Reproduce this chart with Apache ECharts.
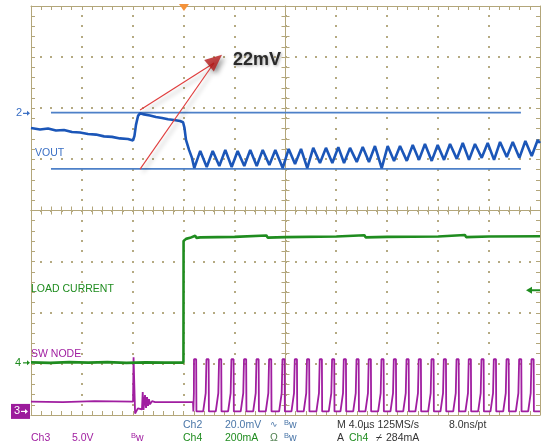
<!DOCTYPE html>
<html><head><meta charset="utf-8">
<script src="https://cdn.jsdelivr.net/npm/echarts@6/dist/echarts.min.js"></script>
<style>html,body{margin:0;padding:0;background:#fff}#c{width:545px;height:447px}</style>
</head><body><div id="c"></div>
<script>
// ---- time base (µs) ----
const timeMin = 0, timeMax = 40, timePerDiv = 4;
// ---- channel scales (per div) and ground-marker positions (div from bottom) ----
const ch2Scale = 20, ch2Pos = 5.9;    // VOUT, mV/div
const ch3Scale = 5, ch3Pos = 0.07;    // SW NODE, V/div
const ch4Scale = 200, ch4Pos = 1.02;  // LOAD CURRENT, mA/div

// ---- VOUT (mV, AC) [t µs, mV] ----
const voutData = [
  [0.00,-5.7],[0.71,-6.3],[1.34,-5.9],[1.96,-6.7],[2.59,-6.5],[3.22,-7.3],[3.85,-7.5],[4.48,-8.1],
  [5.11,-8.3],[5.74,-9.0],[6.37,-9.2],[6.99,-9.8],[7.62,-10.0],[8.02,-10.6],
  [8.13,-8.8],[8.25,-4.5],[8.41,-1.0],[8.57,0.0],[8.88,-0.4],[9.35,-0.8],[9.82,-1.4],[10.30,-1.8],
  [10.77,-2.3],[11.24,-2.6],[11.71,-3.0],[11.95,-3.5],[12.06,-5.7],[12.18,-10.4],[12.42,-14.3],[12.65,-17.4],
  [12.83,-21.4],[13.30,-14.7],[13.81,-21.0],[14.28,-14.7],[14.80,-20.6],[15.27,-14.3],
  [15.77,-21.0],[16.24,-14.7],[16.76,-20.6],[17.23,-14.3],[17.74,-20.6],[18.21,-14.3],
  [18.73,-20.2],[19.20,-14.3],[19.78,-21.4],[20.25,-13.9],[20.75,-19.8],[21.22,-13.9],
  [21.71,-21.4],[22.18,-13.5],[22.71,-19.4],[23.18,-13.5],[23.68,-19.4],[24.15,-13.2],
  [24.60,-19.4],[25.07,-13.5],[25.60,-19.0],[26.07,-13.2],[26.56,-19.0],[27.03,-12.8],
  [27.56,-21.4],[28.03,-12.8],[28.53,-18.6],[29.00,-12.8],[29.53,-18.6],[30.00,-12.4],
  [30.49,-18.2],[30.96,-12.0],[31.49,-18.6],[31.96,-12.4],[32.46,-18.2],[32.93,-12.0],
  [33.46,-17.8],[33.93,-11.6],[34.42,-18.2],[34.89,-12.0],[35.42,-17.4],[35.89,-11.6],
  [36.39,-18.2],[36.86,-11.2],[37.39,-17.1],[37.86,-11.2],[38.38,-17.4],[38.85,-10.8],
  [39.35,-16.7],[39.82,-10.4],[40.00,-11.6]
];
// ---- cursors (mV) ----
const cursorT = [1.57, 38.5];
const cursorMv = [0.3, -21.7];
// ---- LOAD CURRENT (mA) ----
const loadData = [
  [0,2],[1.5,0],[3,3],[4.5,1],[6,3],[7.5,0],[9,2],[10.5,1],[11.98,1],
  [11.99,477],[12.18,485],[12.5,489],[12.9,497],[13.0,489],[13.3,491],[16,493],[18.5,498],[18.6,490],
  [20,492],[24,494],[26.2,499],[26.3,491],[28,493],[32,494],[34.1,500],[34.2,492],[36,494],[40,495]
];
// ---- SW NODE (V) ----
const swPre = [
  [0,0.96],[2.5,0.9],[5,1.0],[8.02,0.96],[8.06,5.3],[8.12,5.2],[8.18,-0.2],[8.33,-0.2],[8.40,0.3],
  [8.72,0.2],[8.78,1.9],[8.84,0.15],[8.96,1.6],[9.04,0.35],[9.12,1.4],[9.20,0.55],[9.27,1.2],
  [9.35,0.7],[9.51,1.0],[9.75,0.9],[12.73,0.93],[12.76,0.0]
];
const swEdgeT = [12.83,13.81,14.80,15.77,16.76,17.74,18.73,19.78,20.75,21.71,22.71,23.68,24.60,25.60,
  26.56,27.56,28.53,29.53,30.49,31.49,32.46,33.46,34.42,35.42,36.39,37.39,38.38,39.35];
const swPulse = [[-0.28,0.0],[-0.08,1.8],[-0.03,1.8],[-0.02,5.1],[0.15,5.1],[0.17,0.0]]; // [dt µs, V]
const swTail = [[40,0.0]];
// ---- annotation ----
const arrowStart = [[8.57,1.3],[8.57,-21.8]];
const arrowTip = [14.38,19.7];
const arrowHead = [14.5,20.8];
const trigT = 12.02;
const trigLevelMa = 284;
const divisions = [0,1,2,3,4,5,6,7,8];
const timeTicks = [0,4,8,12,16,20,24,28,32,36,40];

// build SW table
const swData = swPre.slice();
swEdgeT.forEach(e => swPulse.forEach(p => {
  const t = +(e + p[0]).toFixed(3);
  if (t > swData[swData.length-1][0]) swData.push([t, p[1]]);
}));
swTail.forEach(p => swData.push(p));

const tan = '#b3a67a', dot = '#b5aa82';
const BLUE = '#1b56b8', GREEN = '#1f8c1f', PURPLE = '#a01ea0';

function xAx(pos, offset, inside) {
  return {type:'value', min:timeMin, max:timeMax, interval:timePerDiv, position:pos, offset:offset,
    axisLine:{show:true, onZero:false, lineStyle:{color:tan, width:1}},
    axisTick:{show:true, inside:inside, length:4, lineStyle:{color:tan}},
    minorTick:{show:true, splitNumber:5, length:4, lineStyle:{color:tan}},
    axisLabel:{show:false}, splitLine:{show:false}, minorSplitLine:{show:false}};
}
function yAx(pos, offset, inside) {
  return {type:'value', min:0, max:8, interval:1, position:pos, offset:offset,
    axisLine:{show:true, onZero:false, lineStyle:{color:tan, width:1}},
    axisTick:{show:true, inside:inside, length:4, lineStyle:{color:tan}},
    minorTick:{show:true, splitNumber:5, length:4, lineStyle:{color:tan}},
    axisLabel:{show:false}, splitLine:{show:false}, minorSplitLine:{show:false}};
}
function chAx(scale, pos) {
  return {type:'value', show:false, min:-pos*scale, max:(8-pos)*scale, splitLine:{show:false}};
}

const chart = echarts.init(document.getElementById('c'), null, {renderer:'canvas'});
const gridLeft = 31, gridTop = 6, gridRight = 5, gridBottom = 32;
const centerXOffset = -(545 - gridLeft - gridRight) / 2;
const centerYOffset = -(447 - gridTop - gridBottom) / 2;

chart.setOption({
  animation:false,
  backgroundColor:'#ffffff',
  grid:{left:gridLeft, top:gridTop, right:gridRight, bottom:gridBottom},
  xAxis:[
    xAx('bottom', 0, true),
    xAx('top', 0, true),
    xAx('bottom', centerYOffset, true),
    xAx('bottom', centerYOffset, false)
  ],
  yAxis:[
    yAx('left', 0, true),
    chAx(ch2Scale, ch2Pos),
    chAx(ch3Scale, ch3Pos),
    chAx(ch4Scale, ch4Pos),
    yAx('right', 0, true),
    yAx('left', centerXOffset, true),
    yAx('left', centerXOffset, false)
  ],
  series:[
    {type:'line', name:'cursor1', xAxisIndex:0, yAxisIndex:1, symbol:'none', silent:true,
      data:[[cursorT[0],cursorMv[0]],[cursorT[1],cursorMv[0]]], lineStyle:{color:'#4d80c8', width:1.6}},
    {type:'line', name:'cursor2', xAxisIndex:0, yAxisIndex:1, symbol:'none', silent:true,
      data:[[cursorT[0],cursorMv[1]],[cursorT[1],cursorMv[1]]], lineStyle:{color:'#4d80c8', width:1.6}},
    {type:'line', name:'SW NODE', xAxisIndex:0, yAxisIndex:2, symbol:'none', data:swData,
      lineStyle:{color:PURPLE, width:1.8}, z:3},
    {type:'line', name:'LOAD CURRENT', xAxisIndex:0, yAxisIndex:3, symbol:'none', data:loadData,
      lineStyle:{color:GREEN, width:2.6}, z:4},
    {type:'line', name:'VOUT', xAxisIndex:0, yAxisIndex:1, symbol:'none', data:voutData,
      lineStyle:{color:BLUE, width:2.6}, z:5},
    {type:'line', name:'arrow1', xAxisIndex:0, yAxisIndex:1, symbol:'none', silent:true, z:6,
      data:[arrowStart[0], arrowTip],
      lineStyle:{color:'#e03c3c', width:1.1, shadowColor:'rgba(0,0,0,0.3)', shadowBlur:4, shadowOffsetX:3, shadowOffsetY:3}},
    {type:'line', name:'arrow2', xAxisIndex:0, yAxisIndex:1, symbol:'none', silent:true, z:6,
      data:[arrowStart[1], arrowTip],
      lineStyle:{color:'#e03c3c', width:1.1, shadowColor:'rgba(0,0,0,0.3)', shadowBlur:4, shadowOffsetX:3, shadowOffsetY:3}},
    {type:'scatter', name:'arrowhead', xAxisIndex:0, yAxisIndex:1, silent:true, z:7,
      data:[arrowHead], symbol:'triangle', symbolSize:[15,17], symbolRotate:-50,
      itemStyle:{color:'#b51a1a', shadowColor:'rgba(0,0,0,0.45)', shadowBlur:5, shadowOffsetX:3, shadowOffsetY:3}}
  ]
});

// ---- overlay: dotted graticule, text, markers ----
const P = (ax, v, t) => chart.convertToPixel({xAxisIndex:0, yAxisIndex:ax}, [t === undefined ? timeMin : t, v]);
const pTop = P(0, 8)[1], pBot = P(0, 0)[1], pLft = P(0, 0, timeMin)[0], pRgt = P(0, 0, timeMax)[0];
const stepY = (pBot - pTop) / 40, stepX = (pRgt - pLft) / 50;
const dots = [];
const DOT = (x, y) => ({type:'rect', silent:true, z:1, shape:{x:x, y:y, width:2, height:2}, style:{fill:dot}});
timeTicks.slice(1, -1).forEach(t => {
  const x = Math.round(P(0, 0, t)[0]) - 1;
  for (let k = 1; k < 40; k++) dots.push(DOT(x, Math.round(pTop + k * stepY) - 1));
});
divisions.slice(1, -1).forEach(d => {
  const y = Math.round(P(0, d)[1]) - 1;
  for (let k = 1; k < 50; k++) dots.push(DOT(Math.round(pLft + k * stepX) - 1, y));
});
const y2 = P(1, 0)[1], y3 = P(2, 0)[1], y4 = P(3, 0)[1];
const yTrig = P(3, trigLevelMa)[1];
const xTrig = P(3, 0, trigT)[0];
const F = '10.5px "Liberation Sans", Arial, sans-serif';
const T = (x, y, text, fill, font) => ({type:'text', x:x, y:y, silent:true, z:20,
  style:{text:text, fill:fill, font:font || F, textVerticalAlign:'middle'}});
const BW = (x, y, fill) => ({type:'text', x:x, y:y, silent:true, z:20,
  style:{rich:{b:{fontSize:7.5, fill:fill, verticalAlign:'top', lineHeight:12, fontFamily:'Liberation Sans'},
                w:{fontSize:10.5, fill:fill, lineHeight:12, fontFamily:'Liberation Sans'}},
         text:'{b|B}{w|w}', textVerticalAlign:'middle'}});
const arrowR = (x, y, c) => [
  {type:'line', silent:true, z:20, shape:{x1:x, y1:y, x2:x+5, y2:y}, style:{stroke:c, lineWidth:1.2}},
  {type:'polygon', silent:true, z:20, shape:{points:[[x+7,y],[x+4,y-2.5],[x+4,y+2.5]]}, style:{fill:c}}
];
const C2 = '#4a76a8', TXT = '#333333';
const g = [
  ...dots,
  T(35, 153, 'VOUT', '#3a6fc4'),
  T(31, 289, 'LOAD CURRENT', GREEN),
  T(31, 354, 'SW NODE', PURPLE),
  {type:'text', x:233, y:60, silent:true, z:21, style:{text:'22mV', fill:'#2a2a2a',
    font:'bold 18px "Liberation Sans", Arial, sans-serif', textVerticalAlign:'middle',
    textShadowColor:'rgba(0,0,0,0.35)', textShadowBlur:3, textShadowOffsetX:1, textShadowOffsetY:1}},
  // ground markers
  T(16, y2, '2', '#3a6fc4', '11px "Liberation Sans", Arial'),
  ...arrowR(23, y2, '#3a6fc4'),
  T(15, y4, '4', GREEN, '11px "Liberation Sans", Arial'),
  ...arrowR(23, y4, GREEN),
  {type:'rect', silent:true, z:19, shape:{x:11, y:y3-7.5, width:19, height:15}, style:{fill:'#9c1c9c'}},
  T(14, y3, '3', '#ffffff', '11px "Liberation Sans", Arial'),
  ...arrowR(21, y3, '#ffffff'),
  // trigger position / level markers
  {type:'polygon', silent:true, z:20, shape:{points:[[xTrig-5,4],[xTrig+5,4],[xTrig,11]]}, style:{fill:'#f4923a'}},
  {type:'line', silent:true, z:20, shape:{x1:530, y1:yTrig, x2:540, y2:yTrig}, style:{stroke:GREEN, lineWidth:2}},
  {type:'polygon', silent:true, z:20, shape:{points:[[526,yTrig],[532,yTrig-3.5],[532,yTrig+3.5]]}, style:{fill:GREEN}},
  // status rows
  T(183, 425, 'Ch2', C2), T(225, 425, '20.0mV', C2), T(270, 425, '∿', C2, '9px "DejaVu Sans"'), BW(284, 425, C2),
  T(337, 425, 'M 4.0µs 125MS/s', TXT), T(449, 425, '8.0ns/pt', TXT),
  T(31, 438, 'Ch3', PURPLE), T(72, 438, '5.0V', PURPLE), BW(131, 438, PURPLE),
  T(183, 438, 'Ch4', GREEN), T(225, 438, '200mA', GREEN), T(270, 438, 'Ω', '#4f7f4f'), BW(284, 438, C2),
  T(337, 438, 'A', TXT), T(349, 438, 'Ch4', GREEN), T(376, 438, '⌿', TXT, '10px "DejaVu Sans"'), T(386, 438, '284mA', TXT)
];
chart.setOption({graphic: g});
</script>
</body></html>
